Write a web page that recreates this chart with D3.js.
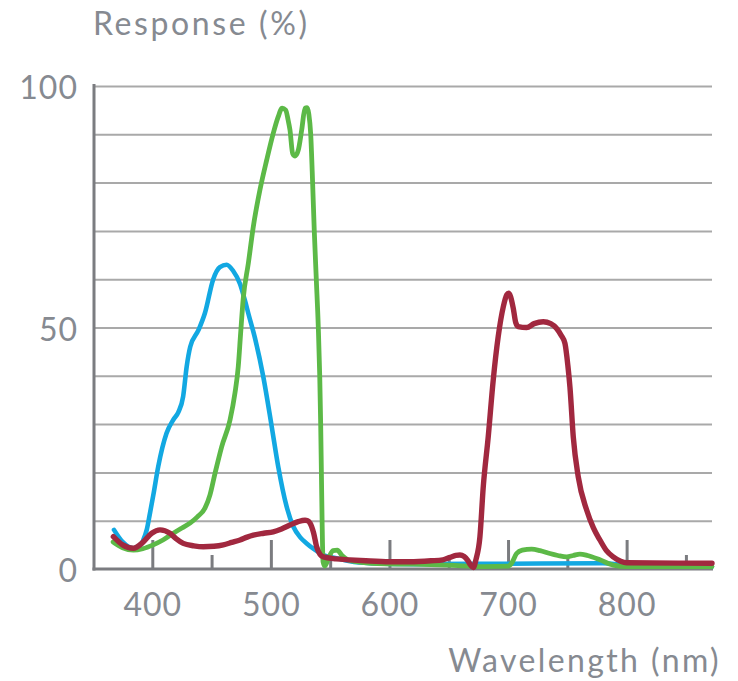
<!DOCTYPE html>
<html>
<head>
<meta charset="utf-8">
<script src="https://cdn.jsdelivr.net/npm/d3@7"></script>
<style>
  html, body { margin: 0; padding: 0; background: #ffffff; }
  svg { display: block; }
  text { font-family: Lato, "Open Sans", sans-serif; fill: #868a91; }
</style>
</head>
<body>
<svg id="chart" width="738" height="681"></svg>
<script>
// Spectral response of the three channels (wavelength in nm, response in %)
const blueNm = [367.7, 375, 384, 390, 392.4, 395.3, 398, 401, 405, 412, 418, 422, 426, 429, 432, 439, 444.4, 451.4, 457, 462.7, 468, 474, 478, 481, 486.6, 493.6, 500.7, 506.2, 513.3, 518.9, 525, 530.2, 537, 544.2, 556, 566.7, 584, 620, 700, 780, 800, 872];
const blueResponse = [8.1, 5.6, 4.3, 4.9, 6.0, 8.1, 11.5, 15.5, 21.2, 28.1, 31, 32.5, 35.7, 41.9, 46, 49.5, 53, 60, 62.5, 63, 61.8, 59, 55.7, 52.9, 47.8, 39.8, 29.5, 21.2, 12.9, 8.8, 6.5, 5.3, 4.0, 2.9, 2.2, 1.6, 1.2, 1.0, 1.1, 1.2, 0.8, 0.5];

const greenNm = [367, 375, 384, 392, 400.8, 409, 417.7, 425, 431.8, 438, 444.4, 448.6, 452.9, 458.5, 465.5, 469.7, 472.5, 474.5, 476.7, 481, 485.2, 490.8, 496.5, 502, 506, 509.5, 512.5, 514.5, 516.1, 518.4, 520.5, 523.1, 526, 528.8, 530.5, 532, 533.6, 535.2, 536.6, 538.3, 540, 541.2, 542, 542.6, 543.2, 544, 545.5, 549, 552.5, 556, 560, 565, 572.3, 590, 620, 650, 680, 700, 703, 707.2, 712, 719.9, 727, 735.3, 742, 749.4, 755, 760.6, 767, 777.5, 788.7, 800, 872];
const greenResponse = [5.6, 4.4, 3.9, 4.2, 5, 6, 7.4, 8.5, 9.5, 10.8, 12.6, 15.3, 19.8, 25.3, 30.8, 36.4, 41.9, 48.8, 56, 63.3, 70.9, 78.5, 84.7, 90.2, 93.5, 95.4, 95, 93, 90.9, 86, 85.5, 86.7, 90.9, 95.4, 95.5, 94.2, 90, 80, 70, 60, 50, 40, 30, 20, 10, 1.5, 0.6, 2.5, 3.8, 3.9, 2.8, 1.9, 1.5, 1.1, 1.0, 0.8, 0.5, 0.6, 1.2, 3.2, 3.9, 4.1, 3.8, 3.2, 2.8, 2.5, 2.8, 3.1, 2.8, 1.9, 0.8, 0.5, 0.5];

const redNm = [367.2, 375, 384, 392, 399.5, 406.5, 414.9, 420, 426.1, 435, 443, 452, 459.9, 467, 474, 480, 485.2, 494, 502, 509, 516.1, 523, 528.8, 531, 533, 536, 538.6, 541.5, 544.2, 555, 566.7, 580, 600, 617, 635, 645, 651, 656, 659.4, 663, 666, 668.5, 670.7, 673, 676.3, 679.1, 683.3, 687.5, 691.7, 696, 699, 700.5, 702, 704.4, 706.5, 708.6, 715.7, 722, 729.7, 736, 741, 745, 748, 750.5, 752.2, 755, 759.2, 766.3, 772, 777.5, 783, 788.7, 795, 800, 872];
const redResponse = [6.7, 5, 4.3, 5.5, 7.4, 8.1, 7.4, 6.3, 5.3, 4.8, 4.6, 4.7, 5, 5.5, 6.0, 6.6, 7.0, 7.4, 7.7, 8.3, 9.1, 9.8, 10.1, 10, 9.5, 7.5, 4.6, 3, 2.5, 2.1, 1.9, 1.7, 1.5, 1.5, 1.7, 1.9, 2.4, 2.8, 2.9, 2.6, 1.8, 0.8, 0.3, 2, 6.7, 17, 27.4, 39.1, 48.1, 54.3, 56.8, 57.1, 56.5, 54, 51, 50.2, 50, 50.8, 51.2, 50.8, 49.8, 48.3, 46.7, 42, 37.7, 27.4, 19.1, 12.2, 8.5, 6.0, 3.8, 2.5, 1.6, 1.3, 1.2];

const xMajorTicks = [400, 500, 600, 700, 800];
const xMinorTicks = [450, 550, 650, 750, 850];
const yLabelTicks = [0, 50, 100];
const yGridTicks = [10, 20, 30, 40, 50, 60, 70, 80, 90, 100];

const seriesColors = { blue: "#12a8e2", green: "#5cb947", red: "#a1283f" };

const svg = d3.select("#chart");

const x = d3.scaleLinear().domain([350, 872]).range([93, 712]);
const y = d3.scaleLinear().domain([0, 100]).range([569, 86]);

const fontStack = "Lato, 'Open Sans', sans-serif";

// horizontal gridlines
const grid = svg.append("g")
  .attr("transform", `translate(${x(350) + 1},0)`)
  .call(d3.axisLeft(y).tickValues(yGridTicks).tickSize(-(x(872) - x(350) - 1)).tickFormat(""));
grid.select(".domain").remove();
grid.selectAll(".tick line").attr("stroke", "#a9a9a9").attr("stroke-width", 2);

// y labels
const yAxis = svg.append("g")
  .attr("transform", `translate(${x(350)},0)`)
  .call(d3.axisLeft(y).tickValues(yLabelTicks).tickSize(0).tickPadding(15));
yAxis.select(".domain").remove();
yAxis.selectAll("text")
  .attr("font-size", 32).attr("dy", "0.4em")
  .style("font-family", fontStack).style("letter-spacing", "1px")
  .attr("fill", "#868a91");

// x ticks (minor, then major with labels), drawn inward
const xMinor = svg.append("g")
  .attr("transform", `translate(0,${y(0)})`)
  .call(d3.axisBottom(x).tickValues(xMinorTicks).tickSizeInner(-14).tickSizeOuter(0).tickFormat(""));
xMinor.select(".domain").remove();
xMinor.selectAll(".tick line").attr("stroke", "#7b7c80").attr("stroke-width", 3);

const xMajor = svg.append("g")
  .attr("transform", `translate(0,${y(0)})`)
  .call(d3.axisBottom(x).tickValues(xMajorTicks).tickSizeInner(-29).tickSizeOuter(0).tickPadding(24));
xMajor.select(".domain").remove();
xMajor.selectAll(".tick line").attr("stroke", "#7b7c80").attr("stroke-width", 3);
xMajor.selectAll("text")
  .attr("font-size", 32)
  .style("font-family", fontStack).style("letter-spacing", "1px")
  .attr("fill", "#868a91");

// axis lines
svg.append("line")
  .attr("x1", x(350) + 1).attr("x2", x(350) + 1)
  .attr("y1", y(100) - 2).attr("y2", y(0) + 1.5)
  .attr("stroke", "#7b7c80").attr("stroke-width", 3);
svg.append("line")
  .attr("x1", x(350) - 0.5).attr("x2", x(872) + 1)
  .attr("y1", y(0)).attr("y2", y(0))
  .attr("stroke", "#7b7c80").attr("stroke-width", 3);

// response curves
const line = d3.line()
  .x(d => x(d[0]))
  .y(d => y(d[1]))
  .curve(d3.curveMonotoneX);

const series = [
  { name: "blue", data: d3.zip(blueNm, blueResponse), width: 4.6 },
  { name: "green", data: d3.zip(greenNm, greenResponse), width: 4.8 },
  { name: "red", data: d3.zip(redNm, redResponse), width: 5.4 }
];

svg.append("g").selectAll("path")
  .data(series)
  .join("path")
  .attr("d", d => line(d.data))
  .attr("fill", "none")
  .attr("stroke", d => seriesColors[d.name])
  .attr("stroke-width", d => d.width)
  .attr("stroke-linejoin", "round")
  .attr("stroke-linecap", "round");

// axis titles
svg.append("text")
  .attr("x", 93).attr("y", 35)
  .attr("font-size", 32)
  .style("letter-spacing", "2.6px")
  .text("Response (%)");
svg.append("text")
  .attr("x", 721).attr("y", 672)
  .attr("text-anchor", "end")
  .attr("font-size", 32)
  .style("letter-spacing", "2.4px")
  .text("Wavelength (nm)");
</script>
</body>
</html>
